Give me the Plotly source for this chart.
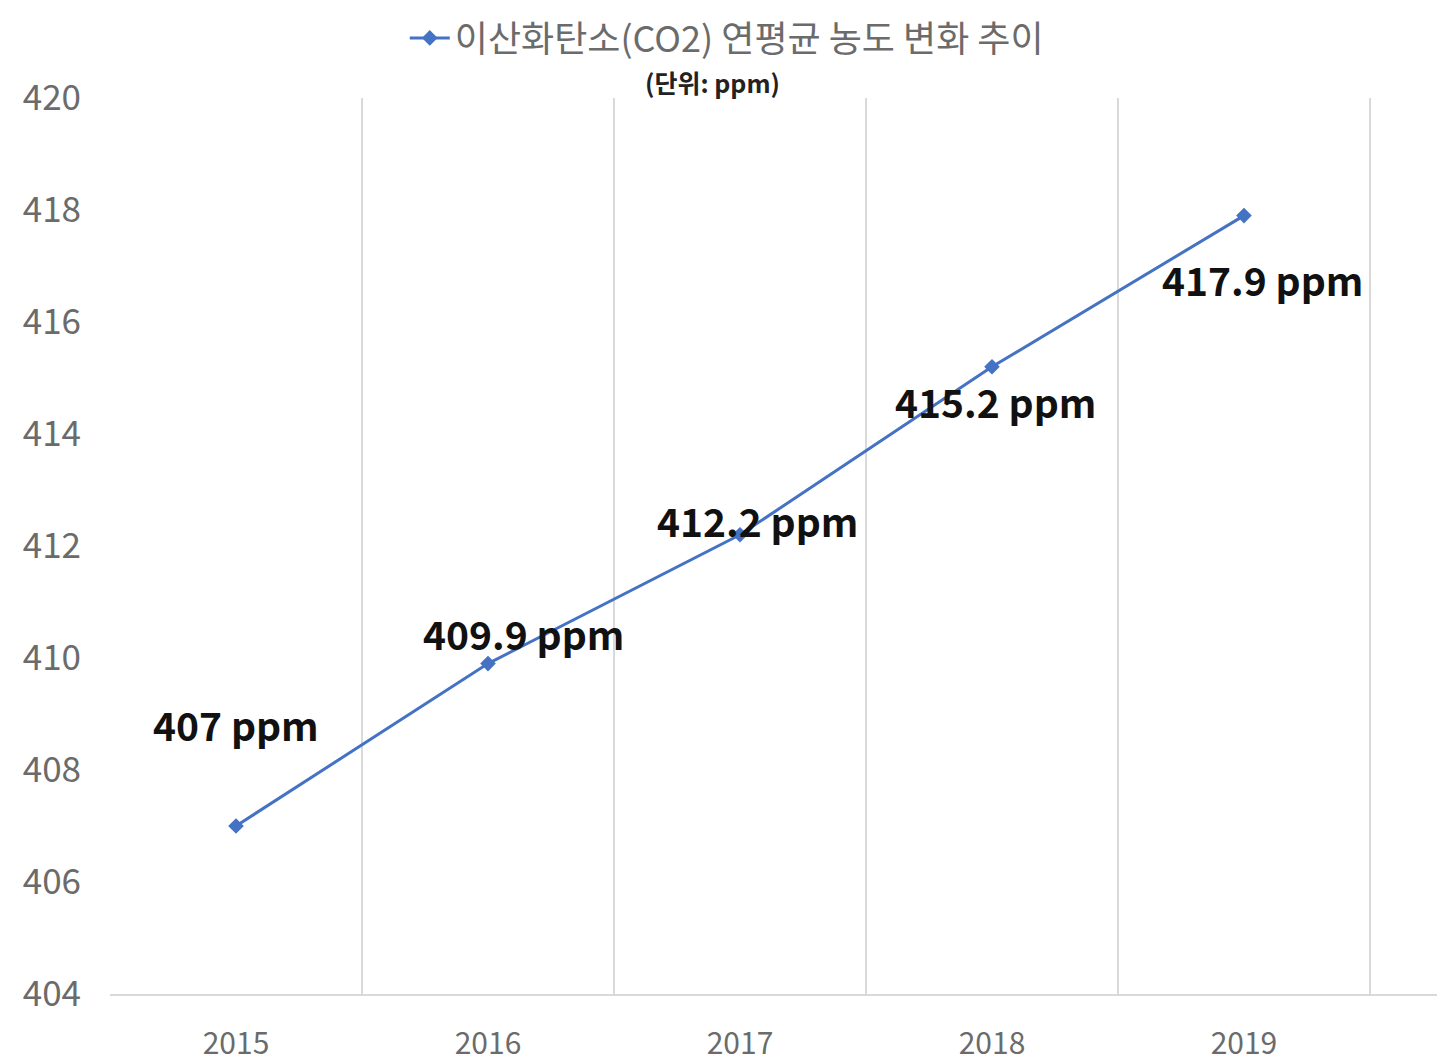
import plotly.graph_objects as go

years = ["2015", "2016", "2017", "2018", "2019"]
co2 = [407.0, 409.9, 412.2, 415.2, 417.9]
labels = ["407 ppm", "409.9 ppm", "412.2 ppm", "415.2 ppm", "417.9 ppm"]
series_name = "이산화탄소(CO2) 연평균 농도 변화 추이"
unit_text = "(단위: ppm)"
y_ticks = [404, 406, 408, 410, 412, 414, 416, 418, 420]

label_offsets = [(0, 102), (36, 31), (18, 15), (4, -34), (19, -63)]

FONT = "Noto Sans CJK KR"
BLUE = "#4472C4"
GRAY = "#6b6b6b"

fig = go.Figure()
fig.add_trace(go.Scatter(
    x=years, y=co2, mode="lines+markers", name=series_name,
    line=dict(color=BLUE, width=3),
    marker=dict(symbol="diamond", size=12, color=BLUE),
))

for i, (v, lab, (dx, dy)) in enumerate(zip(co2, labels, label_offsets)):
    fig.add_annotation(x=i, y=v, xref="x", yref="y", text=f"<b>{lab}</b>",
                       showarrow=False, xshift=dx, yshift=dy,
                       xanchor="center", yanchor="middle",
                       font=dict(family=FONT, size=39, color="#111111"))

fig.add_annotation(xref="paper", yref="paper", x=0.454, y=1.0179,
                   xanchor="center", yanchor="middle",
                   text=f"<b>{unit_text}</b>", showarrow=False,
                   font=dict(family=FONT, size=25, color="#222222"))

fig.update_layout(
    width=1429, height=1056,
    margin=dict(l=102, r=0, t=90, b=70, autoexpand=False),
    paper_bgcolor="white", plot_bgcolor="white",
    font=dict(family=FONT, color=GRAY),
    showlegend=True,
    legend=dict(orientation="h", xref="container", yref="container",
                x=0.503, y=1.0, xanchor="center", yanchor="top",
                font=dict(family=FONT, size=36, color=GRAY),
                itemwidth=40, bgcolor="rgba(0,0,0,0)", borderwidth=0),
    xaxis=dict(type="category", range=[-0.5, 4.766], tickson="boundaries",
               showgrid=True, gridcolor="#d9d9d9", gridwidth=2,
               showline=True, linecolor="#d9d9d9", linewidth=2,
               ticks="", tickfont=dict(family=FONT, size=30, color=GRAY),
               ticklabelstandoff=22, fixedrange=True, automargin=False),
    yaxis=dict(range=[404, 420], tickvals=y_ticks, showgrid=False,
               zeroline=False, showline=False, ticks="",
               tickfont=dict(family=FONT, size=35, color=GRAY),
               ticklabelstandoff=28, automargin=False),
)

fig.write_html("out.html")
